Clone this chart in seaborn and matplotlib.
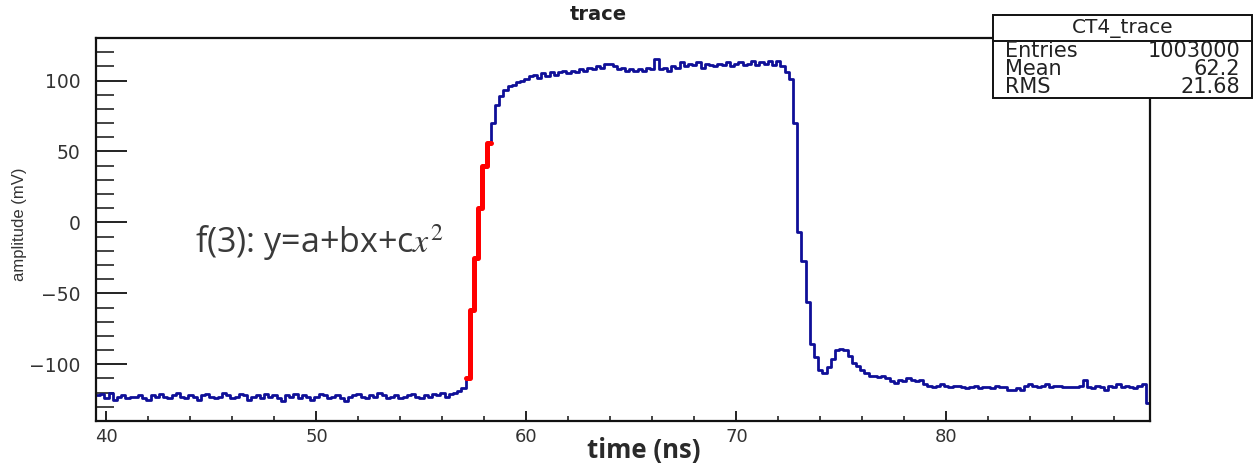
import numpy as np
import pandas as pd
import matplotlib
matplotlib.use("Agg")
import matplotlib.pyplot as plt
from matplotlib.patches import Rectangle
from matplotlib.lines import Line2D
from matplotlib.ticker import MultipleLocator
import seaborn as sns

# ---------------- data ----------------
bin_start = 39.5   # ns, left edge of first bin
bin_width = 0.2    # ns

baseline = [
    -122, -121, -124, -120, -125, -123, -122, -124, -123, -123,
    -122, -124, -125, -122, -123, -121, -123, -124, -122, -120,
    -123, -124, -122, -123, -125, -122, -121, -123, -124, -123,
    -120, -122, -124, -123, -121, -122, -125, -123, -122, -124,
    -121, -123, -122, -124, -126, -122, -123, -121, -124, -122,
    -123, -125, -123, -121, -122, -124, -123, -122, -124, -126,
    -123, -122, -121, -123, -124, -122, -123, -120, -122, -124,
    -123, -122, -124, -123, -122, -121, -123, -124, -122, -123,
    -121, -122, -120, -123, -121, -120, -119,
]
rise = [-117, -110, -62, -25, 10, 40, 56]
plateau = [
    70, 83, 89, 93, 96, 97, 99, 100, 101, 103,
    104, 102, 105, 103, 106, 104, 106, 107, 105, 107,
    106, 108, 107, 109, 108, 110, 109, 112, 112, 110,
    108, 109, 107, 108, 107, 108, 107, 109, 108, 115,
    108, 109, 107, 110, 109, 113, 110, 112, 111, 113,
    109, 112, 111, 110, 112, 111, 113, 110, 112, 113,
    111, 112, 114, 111, 113, 112, 114, 111, 114, 110,
    106, 101,
]
fall = [
    70, -7, -27, -56, -86, -95, -104, -106, -102, -96,
    -90, -89, -90, -94, -99, -101, -104, -106, -108, -108,
    -109, -108, -110, -112, -113,
]
tail = [
    -111, -112, -110, -111, -112, -111,
    -114, -115, -116, -115, -114, -115, -116, -115, -115,
    -116, -117, -116, -115, -117, -116, -116, -117, -115, -116,
    -116, -118, -118, -117, -118,
    -115, -114, -115, -116, -115, -114, -116, -115, -115, -116, -116,
    -116, -116, -115, -111, -116,
    -117, -115, -116, -118, -115, -116, -114, -116, -115, -116, -117, -115, -114,
    -127,
]
fit_low, fit_high = 57.1, 58.3   # fit range of f(3)

x_ticks = [40, 50, 60, 70, 80]
y_ticks = [-100, -50, 0, 50, 100]

title_text = "trace"
x_label = "time (ns)"
y_label = "amplitude (mV)"
fit_label = "f(3): y=a+bx+c$x^{2}$"
stats_title = "CT4_trace"
stats_names = ["Entries", "Mean", "RMS"]
stats_values = ["1003000", "62.2", "21.68"]

# ---------------- build step data ----------------
amplitude = np.array(baseline + rise + plateau + fall + tail, dtype=float)
n = len(amplitude)
edges = bin_start + bin_width * np.arange(n + 1)
step_y = np.append(amplitude, amplitude[-1])
df = pd.DataFrame({"time": edges, "amplitude": step_y})

left_edges = edges[:-1]
sel = np.where((left_edges >= fit_low - 1e-6) & (left_edges + bin_width <= fit_high + 1e-6))[0]
i0, i1 = sel[0], sel[-1] + 1
df_fit = pd.DataFrame({"time": edges[i0:i1 + 1],
                       "amplitude": np.append(amplitude[i0:i1], amplitude[i1 - 1])})

# ---------------- figure ----------------
sns.set_style("white")
plt.rcParams["font.family"] = ["DejaVu Sans"]
plt.rcParams["mathtext.fontset"] = "stix"

W, H = 1256, 465
fig = plt.figure(figsize=(W / 100, H / 100), dpi=100)
ax_l, ax_r, ax_t, ax_b = 96, 1150, 38, 421
ax = fig.add_axes([ax_l / W, 1 - ax_b / H, (ax_r - ax_l) / W, (ax_b - ax_t) / H])

sns.lineplot(data=df, x="time", y="amplitude", drawstyle="steps-post",
             color="#0f0f98", linewidth=2.0, estimator=None, sort=False, ax=ax)
sns.lineplot(data=df_fit, x="time", y="amplitude", drawstyle="steps-post",
             color="#ff0000", linewidth=3.6, estimator=None, sort=False, ax=ax)

ax.set_xlim(edges[0], edges[-1])
ax.set_ylim(-140, 130)
ax.set_xticks(x_ticks)
ax.set_yticks(y_ticks)
ax.xaxis.set_minor_locator(MultipleLocator(2))
ax.yaxis.set_minor_locator(MultipleLocator(10))
ax.tick_params(which="both", bottom=True, left=True, top=False, right=False)
ax.tick_params(axis="x", which="major", direction="in", length=7.5, width=1.3,
               labelsize=13, pad=5, colors="#111111", labelcolor="#333333")
ax.tick_params(axis="x", which="minor", direction="in", length=3.5, width=1.1,
               colors="#111111")
ax.tick_params(axis="y", which="major", direction="in", length=22, width=1.3,
               labelsize=13.5, pad=11, colors="#111111", labelcolor="#333333")
ax.tick_params(axis="y", which="minor", direction="in", length=13, width=1.1,
               colors="#111111")
ax.set_xlabel("")
ax.set_ylabel("")
for side, sp in ax.spines.items():
    sp.set_visible(True)
    sp.set_color("#111111")
    sp.set_linewidth(1.6)

# title and axis labels
fig.text(598 / W, 1 - 15 / H, title_text, ha="center", va="center",
         fontsize=14, fontweight="bold", family="DejaVu Sans", color="#222222")
fig.text(644 / W, 1 - 450 / H, x_label, ha="center", va="center",
         fontsize=18.5, fontweight="bold", family="Open Sans", color="#2a2a2a")
fig.text(20 / W, 1 - 224 / H, y_label, ha="center", va="center", rotation=90,
         fontsize=12, family="Liberation Sans", color="#333333")

# fit label
fig.text(195 / W, 1 - 243 / H, fit_label, ha="left", va="center",
         fontsize=24.5, family="Open Sans", color="#3a3a3a")

# stats box
bx_l, bx_r, bx_t, bx_b = 993, 1252, 15, 98
box = Rectangle((bx_l / W, 1 - bx_b / H), (bx_r - bx_l) / W, (bx_b - bx_t) / H,
                transform=fig.transFigure, facecolor="white", edgecolor="#111111",
                linewidth=1.4, zorder=10)
fig.patches.append(box)
sep_y = 1 - 41 / H
fig.lines.append(Line2D([bx_l / W, bx_r / W], [sep_y, sep_y], transform=fig.transFigure,
                        color="#111111", linewidth=1.4, zorder=11))
fig.text((bx_l + bx_r) / 2 / W, 1 - 29 / H, stats_title, ha="center", va="center",
         fontsize=14.5, family="DejaVu Sans", color="#222222", zorder=12)
row_y = [51, 69, 87]
for name, val, ry in zip(stats_names, stats_values, row_y):
    fig.text(1005 / W, 1 - ry / H, name, ha="left", va="center",
             fontsize=15, family="DejaVu Sans", color="#222222", zorder=12)
    fig.text(1240 / W, 1 - ry / H, val, ha="right", va="center",
             fontsize=15, family="DejaVu Sans", color="#222222", zorder=12)

fig.savefig("out.png", dpi=100)
